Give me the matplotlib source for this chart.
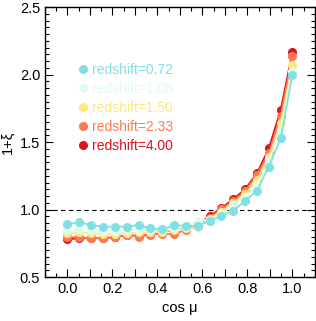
import numpy as np
import matplotlib.pyplot as plt
from matplotlib.ticker import MultipleLocator, FuncFormatter

plt.rcParams['font.family'] = ['Liberation Sans', 'DejaVu Sans']

# cos(mu) bins
cosmu = np.linspace(0, 1, 20)

labels = ['redshift=0.72', 'redshift=1.08', 'redshift=1.50', 'redshift=2.33', 'redshift=4.00']
colors = ['#80e0e6', '#e0fdec', '#ffe680', '#ff7a50', '#dc1420']

xi_072 = [0.893, 0.905, 0.885, 0.873, 0.873, 0.873, 0.885, 0.860, 0.855, 0.882,
          0.880, 0.878, 0.917, 0.952, 0.991, 1.065, 1.140, 1.317, 1.527, 2.000]
xi_108 = [0.850, 0.855, 0.850, 0.842, 0.842, 0.845, 0.847, 0.845, 0.850, 0.862,
          0.872, 0.917, 0.925, 0.970, 1.033, 1.095, 1.180, 1.360, 1.590, 2.030]
xi_150 = [0.828, 0.832, 0.825, 0.820, 0.822, 0.826, 0.830, 0.830, 0.836, 0.850,
          0.860, 0.872, 0.930, 0.985, 1.050, 1.115, 1.220, 1.390, 1.640, 2.070]
xi_233 = [0.795, 0.795, 0.786, 0.790, 0.796, 0.810, 0.800, 0.812, 0.822, 0.816,
          0.850, 0.880, 0.940, 1.004, 1.063, 1.137, 1.256, 1.416, 1.690, 2.140]
xi_400 = [0.780, 0.787, 0.787, 0.787, 0.794, 0.811, 0.804, 0.816, 0.836, 0.848,
          0.862, 0.885, 0.952, 1.010, 1.078, 1.150, 1.268, 1.453, 1.737, 2.169]
series = [xi_072, xi_108, xi_150, xi_233, xi_400]

fig = plt.figure(figsize=(3.16, 3.21), dpi=100)
ax = fig.add_axes([0.1424, 0.137, 0.8544, 0.841])

ax.axhline(1.0, color='black', lw=0.8, ls=(0, (4, 3)), zorder=1)

handles = []
# draw high redshift first so 0.72 ends up on top
for ys, c, lab in list(zip(series, colors, labels))[::-1]:
    h, = ax.plot(cosmu, ys, '-o', color=c, lw=1.3, ms=5.5, mec=c, label=lab, zorder=2)
    handles.append(h)

leg = ax.legend(handles[::-1], labels, loc='upper left', bbox_to_anchor=(0.141, 0.794),
                frameon=False, handlelength=0, handletextpad=0.65, labelspacing=0.36,
                fontsize=10, borderpad=0, borderaxespad=0, labelcolor='linecolor')

ax.set_xlim(-0.1, 1.1)
ax.set_ylim(0.5, 2.5)
ax.xaxis.set_major_locator(MultipleLocator(0.1))
ax.xaxis.set_minor_locator(MultipleLocator(0.05))
ax.xaxis.set_major_formatter(FuncFormatter(
    lambda v, p: '%.1f' % v if abs(round(v / 0.2) * 0.2 - v) < 1e-6 and v > -0.05 else ''))
ax.yaxis.set_major_locator(MultipleLocator(0.5))
ax.yaxis.set_minor_locator(MultipleLocator(0.05))
ax.tick_params(which='both', direction='in', top=True, right=True, labelsize=10.5)
ax.tick_params(which='major', length=6, width=0.8)
ax.tick_params(which='minor', length=3, width=0.8)
for s in ax.spines.values():
    s.set_linewidth(1.0)

ax.set_xlabel('cos μ', fontsize=10.5)
ax.set_ylabel('1+ξ', fontsize=10.5)

fig.savefig('out.png', dpi=100)
